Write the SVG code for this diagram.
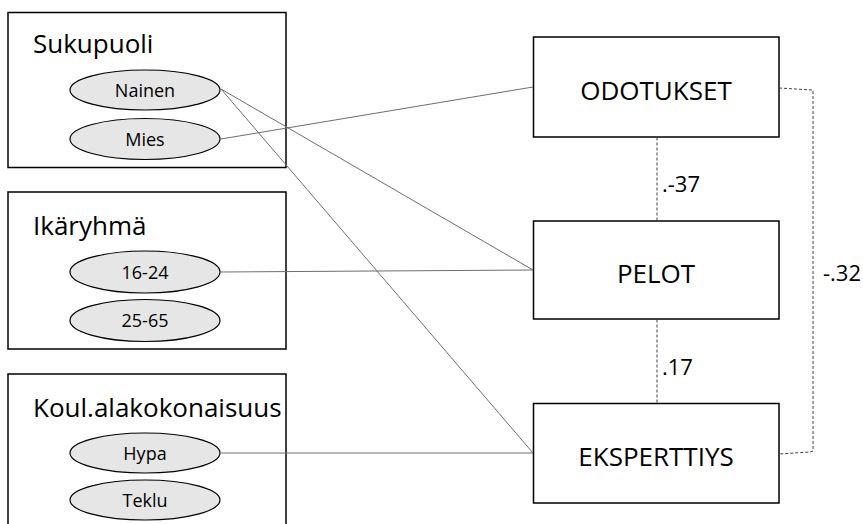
<svg xmlns="http://www.w3.org/2000/svg" width="863" height="524" viewBox="0 0 863 524">
  <style>
    .box { fill: #ffffff; stroke: #000000; stroke-width: 1.5; }
    .ell { fill: #e6e6e6; stroke: #000000; stroke-width: 1.2; }
    .title { font-family: "Open Sans", "Liberation Sans", sans-serif; font-size: 26px; fill: #000000; }
    .lab { font-family: "Open Sans", "Liberation Sans", sans-serif; font-size: 18px; fill: #000000; text-anchor: middle; }
    .big { font-family: "Open Sans", "Liberation Sans", sans-serif; font-size: 26px; fill: #000000; text-anchor: middle; }
    .num { font-family: "Open Sans", "Liberation Sans", sans-serif; font-size: 22px; fill: #000000; }
    .link { stroke: #6e6e6e; stroke-width: 1; fill: none; }
    .corr { stroke: #404040; stroke-width: 1; stroke-dasharray: 3 2; fill: none; }
  </style>
  <rect width="863" height="524" fill="#ffffff"/>

  <!-- Sukupuoli -->
  <g id="sukupuoli">
    <rect class="box" x="8" y="12.5" width="278" height="155"/>
    <text class="title" x="33" y="53">Sukupuoli</text>
    <g id="nainen">
      <ellipse class="ell" cx="145" cy="90" rx="75" ry="20"/>
      <text class="lab" x="145" y="96.5">Nainen</text>
    </g>
    <g id="mies">
      <ellipse class="ell" cx="145" cy="139" rx="75" ry="20.5"/>
      <text class="lab" x="145" y="145.5">Mies</text>
    </g>
  </g>

  <!-- Ikäryhmä -->
  <g id="ikaryhma">
    <rect class="box" x="8" y="192" width="278" height="157"/>
    <text class="title" x="33" y="235">Ikäryhmä</text>
    <g id="ika-16-24">
      <ellipse class="ell" cx="145" cy="272" rx="75" ry="21"/>
      <text class="lab" x="145" y="278.5">16-24</text>
    </g>
    <g id="ika-25-65">
      <ellipse class="ell" cx="145" cy="320.5" rx="75" ry="21"/>
      <text class="lab" x="145" y="327">25-65</text>
    </g>
  </g>

  <!-- Koul.alakokonaisuus -->
  <g id="koulutus">
    <rect class="box" x="8" y="374" width="278" height="160"/>
    <text class="title" x="33" y="417">Koul.alakokonaisuus</text>
    <g id="hypa">
      <ellipse class="ell" cx="145" cy="453" rx="75" ry="20"/>
      <text class="lab" x="145" y="459.5">Hypa</text>
    </g>
    <g id="teklu">
      <ellipse class="ell" cx="145" cy="500" rx="75" ry="20"/>
      <text class="lab" x="145" y="506.5">Teklu</text>
    </g>
  </g>

  <!-- outcome nodes -->
  <g id="odotukset">
    <rect class="box" x="533.5" y="37" width="245.5" height="100"/>
    <text class="big" x="656" y="100">ODOTUKSET</text>
  </g>
  <g id="pelot">
    <rect class="box" x="533.5" y="221" width="245.5" height="98"/>
    <text class="big" x="656" y="283">PELOT</text>
  </g>
  <g id="eksperttiys">
    <rect class="box" x="533.5" y="403.5" width="245.5" height="99.5"/>
    <text class="big" x="656" y="466">EKSPERTTIYS</text>
  </g>

  <!-- connectors: paths from the categories, correlations between outcomes -->
  <g id="connectors">
    <line class="link" x1="221" y1="89" x2="533" y2="270"/>
    <line class="link" x1="221" y1="89" x2="533" y2="453"/>
    <line class="link" x1="221" y1="139" x2="533" y2="87"/>
    <line class="link" x1="221" y1="272" x2="533" y2="270"/>
    <line class="link" x1="221" y1="453" x2="533" y2="453"/>
    <line class="corr" x1="657" y1="137.5" x2="657" y2="220.5"/>
    <line class="corr" x1="657" y1="319.5" x2="657" y2="403"/>
    <polyline class="corr" points="779,88 812,90 813,90 813,451 810,452 779,454"/>
    <text class="num" x="662" y="192">.-37</text>
    <text class="num" x="662" y="375">.17</text>
    <text class="num" x="823" y="281">-.32</text>
  </g>
</svg>
